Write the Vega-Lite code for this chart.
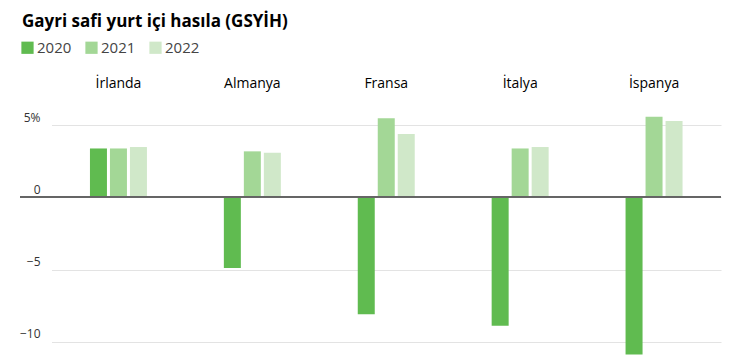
{
  "$schema": "https://vega.github.io/schema/vega-lite/v6.json",
  "autosize": {"type": "none"},
  "width": 701,
  "height": 245,
  "padding": {"left": 20, "top": 111, "right": 33, "bottom": 3},
  "background": "white",
  "config": {"view": {"stroke": null}, "font": "Open Sans"},
  "title": {
    "text": "Gayri safi yurt içi hasıla (GSYİH)",
    "anchor": "start",
    "frame": "group",
    "fontSize": 17,
    "fontWeight": "bold",
    "color": "#000000",
    "dx": 2,
    "offset": 9
  },
  "data": {
    "values": [
      {"ulke": "İrlanda", "yil": "2020", "deger": 3.4},
      {"ulke": "İrlanda", "yil": "2021", "deger": 3.4},
      {"ulke": "İrlanda", "yil": "2022", "deger": 3.5},
      {"ulke": "Almanya", "yil": "2020", "deger": -4.9},
      {"ulke": "Almanya", "yil": "2021", "deger": 3.2},
      {"ulke": "Almanya", "yil": "2022", "deger": 3.1},
      {"ulke": "Fransa", "yil": "2020", "deger": -8.1},
      {"ulke": "Fransa", "yil": "2021", "deger": 5.5},
      {"ulke": "Fransa", "yil": "2022", "deger": 4.4},
      {"ulke": "İtalya", "yil": "2020", "deger": -8.9},
      {"ulke": "İtalya", "yil": "2021", "deger": 3.4},
      {"ulke": "İtalya", "yil": "2022", "deger": 3.5},
      {"ulke": "İspanya", "yil": "2020", "deger": -10.9},
      {"ulke": "İspanya", "yil": "2021", "deger": 5.6},
      {"ulke": "İspanya", "yil": "2022", "deger": 5.3}
    ]
  },
  "layer": [
    {
      "mark": {"type": "bar"},
      "encoding": {
        "x": {
          "field": "ulke",
          "type": "nominal",
          "sort": ["İrlanda", "Almanya", "Fransa", "İtalya", "İspanya"],
          "scale": {"range": [31.5, 701], "paddingInner": 0.552, "paddingOuter": 0.276},
          "axis": {
            "orient": "top",
            "title": null,
            "domain": false,
            "ticks": false,
            "labelAngle": 0,
            "labelFontSize": 14,
            "labelColor": "#000000",
            "labelPadding": 21
          }
        },
        "xOffset": {
          "field": "yil",
          "type": "nominal",
          "scale": {"paddingInner": 0.15, "paddingOuter": 0.075}
        },
        "y": {
          "field": "deger",
          "type": "quantitative",
          "scale": {"domain": [-11, 6], "nice": false},
          "axis": {
            "title": null,
            "values": [-10, -5, 0, 5],
            "labelExpr": "datum.value == 5 ? '5%' : datum.label",
            "domain": false,
            "ticks": false,
            "grid": true,
            "gridColor": "#e3e3e3",
            "labelAlign": "right",
            "labelBaseline": "bottom",
            "labelPadding": -20,
            "labelOffset": -1,
            "labelFontSize": 12,
            "labelColor": "#333333"
          }
        },
        "color": {
          "field": "yil",
          "type": "nominal",
          "scale": {"domain": ["2020", "2021", "2022"], "range": ["#60bb50", "#a3d796", "#d0e8c9"]},
          "legend": {
            "orient": "top",
            "direction": "horizontal",
            "title": null,
            "symbolType": "square",
            "symbolSize": 150,
            "symbolStrokeWidth": 0,
            "labelFontSize": 15,
            "labelColor": "#444444",
            "columnPadding": 12,
            "labelOffset": 2,
            "offset": 20,
            "padding": 0
          }
        }
      }
    },
    {
      "mark": {"type": "rule", "color": "#666666", "strokeWidth": 1.2},
      "encoding": {"y": {"datum": 0}}
    }
  ]
}
